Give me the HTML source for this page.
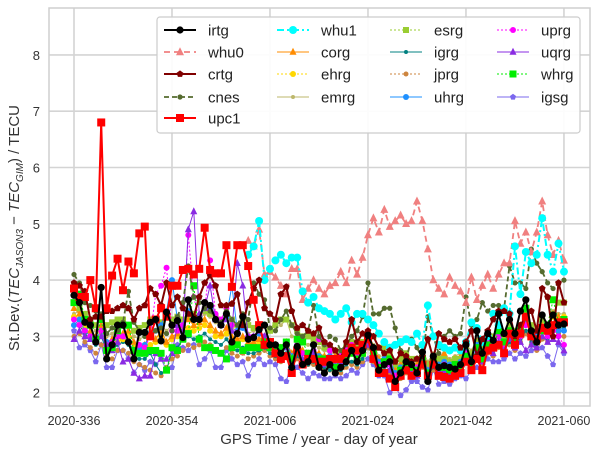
<!DOCTYPE html>
<html><head><meta charset="utf-8"><style>
body{margin:0;background:#fff;}
svg{display:block;font-family:"Liberation Sans",sans-serif;}
</style></head><body>
<svg id="chart" width="600" height="456" viewBox="0 0 600 456">
<rect x="0" y="0" width="600" height="456" fill="#fff"/>
<g id="grid"></g>
<rect x="49" y="8" width="541" height="398" fill="none" stroke="#cfcfcf" stroke-width="1.5"/>
<g id="series"></g>
<g id="axes"></g>
<text x="19" y="228" transform="rotate(-90 19 228)" text-anchor="middle" font-size="15" fill="#333">St.Dev.(<tspan font-style="italic">TEC</tspan><tspan font-size="10" dy="4" font-style="italic">JASON3</tspan><tspan dy="-4"> − </tspan><tspan font-style="italic">TEC</tspan><tspan font-size="10" dy="4" font-style="italic">GIM</tspan><tspan dy="-4">) / TECU</tspan></text>
<text x="319" y="444" text-anchor="middle" font-size="15" fill="#333">GPS Time / year - day of year</text>
<g id="legend"></g>
</svg>
<script>
const xTickDays=[0,18,36,54,72,90];
const xTickLabels=["2020-336","2020-354","2021-006","2021-024","2021-042","2021-060"];
const yTicks=[2,3,4,5,6,7,8];

const irtg=[3.73,3.6,3.25,3.2,2.9,3.87,2.6,2.85,3.2,3.2,2.9,2.6,3.07,3.07,3.25,3.3,2.92,3.43,3.2,3.28,2.98,3.65,3.3,3.3,3.6,3.55,3.3,3.2,3.4,2.9,3.05,3.35,2.95,2.98,3.12,3.2,2.85,2.85,2.7,2.85,2.45,2.82,2.5,2.55,2.85,2.45,2.35,2.5,2.35,2.45,2.55,2.75,2.55,2.75,3.02,2.8,2.4,2.5,2.55,2.2,2.35,2.55,2.5,2.35,2.72,2.2,2.65,2.45,2.48,2.45,2.42,2.5,2.85,2.55,3.1,2.7,3.05,2.93,3.4,3.05,3.3,3.05,3.45,3.65,3.1,2.9,3.38,3.2,3.38,3.2,3.22];
const upc1=[3.85,3.7,3.7,4.0,3.5,6.8,3.5,4.08,4.38,3.82,4.33,4.12,4.83,4.95,3.0,3.3,3.5,3.35,3.9,3.9,4.18,4.2,4.1,4.2,4.93,4.18,4.12,4.12,4.62,3.88,4.62,4.62,4.25,3.65,3.2,2.85,2.9,2.7,2.6,2.65,2.35,2.75,2.5,2.6,2.6,2.55,2.55,2.6,2.6,2.6,2.7,2.8,2.75,2.85,2.95,2.6,2.35,2.35,2.25,2.1,2.3,2.4,2.3,2.35,2.5,2.3,2.5,2.3,2.28,2.25,2.3,2.35,2.55,2.4,2.6,2.4,2.75,2.8,2.85,2.7,3.05,2.85,3.05,3.35,3.0,2.95,3.15,3.1,3.2,3.25,3.25];
const crtg=[3.95,3.9,3.8,3.3,3.35,3.35,3.45,3.45,3.5,3.55,3.5,3.3,3.5,3.55,3.85,3.75,3.55,3.95,3.55,3.7,3.5,3.4,3.35,3.7,3.95,4.08,3.9,3.55,3.55,3.58,3.75,3.2,3.6,3.85,4.0,3.5,3.4,3.3,3.75,3.88,3.45,3.15,3.2,3.1,3.05,3.15,2.9,2.85,2.75,2.6,2.9,3.3,2.9,3.05,3.1,3.0,2.8,2.7,2.75,2.55,2.7,2.65,2.55,2.6,2.65,2.95,2.6,3.05,2.95,2.9,2.95,2.8,2.9,3.1,2.65,2.95,3.1,3.3,3.45,3.45,3.4,3.0,3.2,3.35,3.45,3.1,3.85,3.7,3.0,3.95,3.6];
const cnes=[4.1,3.95,3.6,3.55,3.45,3.4,3.05,3.15,3.1,3.25,3.8,3.25,3.1,3.0,3.0,3.1,3.15,3.05,3.1,3.35,3.6,4.25,3.7,3.6,3.5,3.45,3.3,3.25,3.45,3.3,3.2,3.4,3.3,3.95,3.75,3.65,3.15,3.1,3.3,3.45,3.2,3.05,3.0,3.1,3.55,3.0,2.85,3.0,2.95,2.75,2.85,3.0,3.1,3.35,3.95,3.4,3.4,3.5,3.5,3.15,2.75,2.6,2.95,2.8,2.6,3.35,3.0,2.7,3.0,3.1,3.0,3.05,3.7,3.2,3.3,3.6,3.45,3.55,3.55,3.5,4.25,3.95,3.95,3.85,4.55,4.3,4.15,3.95,3.85,3.95,4.0];
const whu0Start=32;
const whu0=[4.7,4.6,4.9,4.1,4.15,4.05,3.9,3.75,4.2,4.2,3.65,3.85,4.0,3.85,3.75,3.9,3.95,4.15,3.95,4.35,4.1,4.4,4.8,5.1,4.85,5.25,4.95,5.05,5.15,5.0,5.05,5.4,5.05,4.55,4.0,3.85,3.75,4.05,3.9,3.8,3.6,4.05,3.65,3.9,4.1,3.85,4.1,4.3,4.3,5.05,4.65,4.85,4.5,4.85,5.4,4.8,4.45,4.7,4.35];
const whu1Start=32;
const whu1=[4.45,4.6,5.05,4.0,4.2,4.35,4.45,4.3,4.4,4.4,3.8,3.6,3.7,3.5,3.45,3.4,3.3,3.4,3.5,3.25,3.4,3.4,3.3,3.2,3.05,2.9,2.8,2.85,2.9,2.95,2.9,3.05,2.85,3.55,3.0,2.85,2.8,2.75,2.8,2.75,2.9,3.25,3.15,2.9,3.0,3.4,3.2,3.5,3.4,4.6,3.75,4.5,4.3,4.45,5.1,4.45,4.15,4.65,4.15];
const igsg=[3.1,2.8,2.85,2.75,2.55,2.85,2.45,2.45,2.75,2.75,2.6,2.35,2.5,2.4,2.55,2.5,2.6,2.4,2.45,2.85,2.8,2.75,2.85,2.5,2.6,2.75,2.45,2.45,2.75,2.6,2.5,2.55,2.3,2.5,2.6,2.5,2.55,2.5,2.25,2.2,2.55,2.45,2.35,2.25,2.35,2.3,2.25,2.25,2.3,2.25,2.3,2.4,2.35,2.5,2.6,2.5,2.3,2.3,2.0,2.1,1.95,2.05,2.2,2.2,2.1,2.05,2.4,2.15,2.2,2.15,2.25,2.3,2.25,2.4,2.45,2.5,2.6,2.55,2.55,2.6,2.7,2.6,2.7,2.65,2.75,2.8,2.8,2.65,2.5,2.85,2.7];
const uqrg=[2.95,3.1,3.0,2.95,2.9,3.0,2.85,2.75,2.9,2.55,2.6,2.35,2.25,2.3,2.3,2.7,2.6,2.6,2.7,3.2,3.1,4.9,5.22,3.4,3.5,3.9,3.3,3.2,3.3,3.1,4.3,3.9,3.0,3.0,3.1,3.0,2.9,2.8,2.7,2.8,2.5,2.75,2.6,2.6,2.7,2.55,2.5,2.6,2.5,2.55,2.6,2.7,2.6,2.7,2.85,2.7,2.4,2.5,2.4,2.2,2.3,2.4,2.35,2.3,2.5,2.3,2.5,2.4,2.4,2.35,2.4,2.4,2.6,2.45,2.7,2.55,2.8,2.7,2.9,2.75,2.95,2.8,2.9,2.75,2.85,2.8,3.0,2.9,2.95,2.9,2.75];
const uprg=[3.3,3.2,3.1,3.0,2.95,3.1,2.85,2.9,3.0,3.0,2.9,2.7,2.85,2.8,3.0,3.75,3.9,4.22,3.1,3.1,3.2,4.8,3.7,3.3,3.5,4.35,3.4,3.3,3.5,3.2,3.05,3.2,3.0,3.0,3.1,3.0,2.9,2.85,2.8,2.85,2.6,2.85,2.7,2.65,2.75,2.95,2.9,2.75,2.6,2.65,2.8,2.85,2.7,2.8,3.0,2.75,2.5,2.55,2.5,2.3,2.4,2.5,2.4,2.45,2.6,2.35,2.55,2.45,2.5,2.4,2.45,2.5,2.7,2.55,2.8,2.6,2.9,2.8,3.0,2.8,3.0,2.85,3.0,3.2,3.0,2.9,3.1,3.0,3.1,3.0,2.85];
const uhrg=[3.2,3.3,3.1,3.0,2.95,3.1,2.9,2.85,3.0,3.0,2.9,2.75,2.8,2.85,3.05,3.1,3.2,3.45,4.0,3.3,3.2,3.45,3.3,3.35,3.5,3.5,3.3,3.25,3.35,3.9,3.1,3.15,3.0,3.0,3.05,3.0,2.9,2.85,2.8,2.9,2.65,2.85,2.7,2.7,2.75,2.65,2.6,2.65,2.6,2.65,2.7,2.8,2.7,2.8,3.0,2.8,2.55,2.6,2.6,2.35,2.45,2.55,2.5,2.45,2.65,2.4,2.6,2.5,2.55,2.5,2.5,2.55,2.75,2.6,2.85,2.65,2.95,2.85,3.05,2.9,3.05,2.95,3.1,3.3,3.1,3.0,3.15,3.1,3.2,3.1,3.1];
const whrg=[3.6,3.75,3.3,3.2,2.95,3.3,2.75,2.8,3.1,3.2,3.2,2.75,2.7,2.7,2.75,2.75,2.7,2.4,2.8,2.75,2.95,3.05,3.9,2.95,2.8,2.8,2.75,2.7,2.6,2.8,2.85,2.75,2.8,2.8,2.8,2.9,2.8,2.75,2.8,2.9,2.6,2.95,2.9,2.7,2.6,2.6,2.6,2.5,2.45,2.6,2.65,2.7,2.6,2.7,2.95,2.7,2.45,2.55,2.6,2.2,2.4,2.5,2.45,2.4,2.6,2.35,2.55,2.45,2.45,2.4,2.5,2.45,2.65,2.5,2.8,2.6,2.85,2.8,3.1,2.9,3.1,2.9,3.1,3.5,3.0,2.95,3.1,3.2,3.65,3.25,3.3];
const esrg=[3.6,3.5,3.4,3.3,3.2,3.35,3.2,3.25,3.3,3.3,3.2,3.1,3.15,3.2,3.3,3.3,3.25,3.35,3.3,3.35,3.3,3.4,3.4,3.35,3.45,3.4,3.35,3.3,3.4,3.3,3.2,3.3,3.2,3.15,3.2,3.2,3.1,3.2,3.3,3.3,3.2,3.1,3.0,3.0,2.95,2.9,2.8,2.8,2.75,2.7,2.8,2.9,2.8,2.9,3.0,3.0,2.8,2.8,2.7,2.5,2.6,2.7,2.6,2.6,2.7,2.5,2.65,2.6,2.6,2.55,2.6,2.6,2.8,2.7,2.9,2.8,3.0,3.0,3.1,3.0,3.2,3.1,3.2,3.4,3.2,3.1,3.3,3.2,3.4,3.6,3.6];
const corg=[3.5,3.4,3.3,3.1,3.0,3.2,2.9,2.95,3.0,3.05,3.1,2.9,2.8,2.85,3.0,2.95,3.1,2.9,3.0,3.05,3.2,3.3,3.2,3.25,3.3,3.2,3.1,3.05,3.15,3.0,2.95,3.0,2.9,2.9,2.95,3.0,2.9,2.85,2.8,2.9,2.7,2.85,2.75,2.7,2.75,2.7,2.65,2.6,2.65,2.6,2.7,2.75,2.7,2.8,3.1,2.8,2.6,2.6,2.55,2.4,2.5,2.6,2.55,2.5,2.7,2.5,2.65,2.6,2.7,2.55,2.6,2.65,2.8,2.7,2.9,2.75,2.95,2.9,3.05,2.95,3.1,3.0,3.15,3.3,3.1,3.0,3.2,3.15,3.4,3.35,3.3];
const ehrg=[3.35,3.3,3.15,3.0,2.9,3.05,2.85,2.8,2.9,2.95,3.0,2.8,2.7,2.75,2.85,2.9,3.0,2.85,2.95,3.0,3.1,3.15,3.1,3.15,3.2,3.1,3.0,3.0,3.05,2.95,2.9,2.95,2.85,2.85,2.9,2.9,2.85,2.8,2.75,2.85,2.65,2.8,2.7,2.65,2.7,2.65,2.6,2.55,2.6,2.55,2.65,2.7,2.65,2.75,3.05,2.75,2.55,2.55,2.5,2.35,2.45,2.55,2.5,2.45,2.65,2.45,2.6,2.55,2.65,2.5,2.55,2.6,2.75,2.65,2.85,2.7,2.9,2.85,3.0,2.9,3.05,2.95,3.1,3.25,3.05,2.95,3.15,3.1,3.35,3.3,3.35];
const emrg=[3.4,3.45,3.3,3.2,3.1,3.25,3.0,3.05,3.15,3.2,3.15,3.0,2.95,3.0,3.15,3.1,3.2,3.1,3.2,3.2,3.3,3.35,3.3,3.3,3.4,3.35,3.25,3.2,3.3,3.15,3.1,3.15,3.05,3.1,3.15,3.2,3.1,3.3,3.2,3.3,3.0,3.0,2.9,2.85,2.85,2.8,2.75,2.7,2.7,2.65,2.75,2.8,2.75,2.85,3.05,2.85,2.65,2.65,2.6,2.45,2.55,2.65,2.6,2.55,2.75,2.55,2.7,2.65,2.7,2.6,2.65,2.7,2.85,2.75,2.95,2.8,3.0,2.95,3.1,3.0,3.15,3.05,3.2,3.35,3.15,3.05,3.25,3.2,3.45,3.4,3.4];
const igrg=[3.2,3.2,3.05,2.95,2.85,3.0,2.75,2.75,2.85,2.9,2.85,2.65,2.6,2.6,2.7,2.5,2.35,2.4,2.75,2.8,2.95,3.0,2.95,3.0,3.05,2.95,2.9,2.85,2.95,2.8,2.75,2.8,2.7,2.7,2.75,2.8,2.7,2.65,2.6,2.7,2.45,2.65,2.55,2.5,2.55,2.5,2.45,2.4,2.45,2.4,2.5,2.55,2.5,2.6,2.85,2.6,2.4,2.4,2.4,2.2,2.3,2.4,2.35,2.3,2.5,2.3,2.45,2.4,2.45,2.35,2.4,2.45,2.6,2.5,2.7,2.55,2.75,2.7,2.85,2.75,2.9,2.8,2.95,3.1,2.9,2.8,3.0,2.95,3.2,3.15,3.15];
const jprg=[3.0,3.05,2.9,2.8,2.7,2.85,2.65,2.6,2.75,2.75,2.7,2.55,2.5,2.45,2.4,2.35,2.3,2.45,2.6,2.65,2.75,2.85,2.8,2.85,2.9,2.85,2.75,2.7,2.8,2.7,2.65,2.7,2.6,2.65,2.7,2.75,2.65,2.6,2.55,2.65,2.45,2.6,2.5,2.5,2.5,2.45,2.4,2.4,2.4,2.35,2.45,2.5,2.45,2.55,2.8,2.55,2.35,2.4,2.35,2.15,2.25,2.35,2.3,2.3,2.45,2.25,2.4,2.35,2.4,2.3,2.35,2.4,2.55,2.45,2.65,2.5,2.7,2.65,2.8,2.7,2.85,2.75,2.9,3.05,2.85,2.75,2.95,2.9,3.1,3.05,3.0];

const X0=74, PX_PER_DAY=5.444, Y2=392.7, PX_PER_UNIT=56.3;
function xs(d){return X0+d*PX_PER_DAY;}
function ys(v){return Y2-(v-2)*PX_PER_UNIT;}
const NS="http://www.w3.org/2000/svg";
function mk(tag,attrs,parent){const e=document.createElementNS(NS,tag);for(const k in attrs)e.setAttribute(k,attrs[k]);parent.appendChild(e);return e;}

const grid=document.getElementById('grid'), axes=document.getElementById('axes');
xTickDays.forEach((d,i)=>{
  const gl=mk('line',{x1:xs(d),x2:xs(d),y1:8,y2:406,stroke:'#d4d4d4','stroke-width':1.6},grid);
  
  
  const t=mk('text',{x:xs(d),y:425,'text-anchor':'middle','font-size':12.5,fill:'#333'},axes);
  t.textContent=xTickLabels[i];
  
  
});
yTicks.forEach(v=>{
  const gl=mk('line',{x1:49,x2:590,y1:ys(v),y2:ys(v),stroke:'#d4d4d4','stroke-width':1.6},grid);
  
  
  const t=mk('text',{x:40,y:ys(v)+5,'text-anchor':'end','font-size':13,fill:'#333'},axes);
  t.textContent=String(v);
  
  
});

function marker(g,shape,x,y,s,color){
  if(shape==='o') return mk('circle',{cx:x,cy:y,r:s,fill:color},g);
  if(shape==='s') return mk('rect',{x:x-s,y:y-s,width:2*s,height:2*s,fill:color},g);
  if(shape==='^') return mk('polygon',{points:`${x},${y-s*1.2} ${x-s},${y+s*0.8} ${x+s},${y+s*0.8}`,fill:color},g);
  if(shape==='p'){let p=[];for(let k=0;k<5;k++){const a=-Math.PI/2+k*2*Math.PI/5;p.push((x+s*Math.cos(a)).toFixed(1)+','+(y+s*Math.sin(a)).toFixed(1));}return mk('polygon',{points:p.join(' '),fill:color},g);}
  return mk('circle',{cx:x,cy:y,r:s,fill:color},g);
}

const specs=[
 {name:'igsg',data:igsg,start:0,color:'#7b68ee',dash:'',w:1,m:'p',s:3.2},
 {name:'jprg',data:jprg,start:0,color:'#cd853f',dash:'2,2',w:1,m:'o',s:2.5},
 {name:'igrg',data:igrg,start:0,color:'#008080',dash:'',w:1,m:'o',s:2},
 {name:'emrg',data:emrg,start:0,color:'#bdb76b',dash:'',w:1,m:'o',s:2},
 {name:'ehrg',data:ehrg,start:0,color:'#ffd700',dash:'2,2',w:1,m:'o',s:3},
 {name:'corg',data:corg,start:0,color:'#ff8c00',dash:'',w:1,m:'^',s:3.5},
 {name:'esrg',data:esrg,start:0,color:'#9acd32',dash:'2,2',w:1,m:'s',s:3},
 {name:'uhrg',data:uhrg,start:0,color:'#1e90ff',dash:'',w:1,m:'o',s:3},
 {name:'uprg',data:uprg,start:0,color:'#ff00ff',dash:'2,2',w:1,m:'o',s:3},
 {name:'uqrg',data:uqrg,start:0,color:'#8a2be2',dash:'',w:1,m:'^',s:3.5},
 {name:'whrg',data:whrg,start:0,color:'#00ee00',dash:'2,2',w:1,m:'s',s:3.5},
 {name:'cnes',data:cnes,start:0,color:'#556b2f',dash:'5,3',w:1.8,m:'o',s:2.6},
 {name:'whu0',data:whu0,start:whu0Start,color:'#f08080',dash:'6,4',w:1.8,m:'^',s:4},
 {name:'whu1',data:whu1,start:whu1Start,color:'#00ffff',dash:'7,3,2,3',w:2,m:'o',s:4},
 {name:'crtg',data:crtg,start:0,color:'#800000',dash:'',w:2,m:'p',s:3.6},
 {name:'upc1',data:upc1,start:0,color:'#ff0000',dash:'',w:2,m:'s',s:4},
 {name:'irtg',data:irtg,start:0,color:'#000000',dash:'',w:2,m:'o',s:3.6}
];
const sg=document.getElementById('series');
specs.forEach(sp=>{
  const g=mk('g',{},sg);
  
  
  const pts=sp.data.map((v,i)=>xs(sp.start+i).toFixed(1)+','+ys(v).toFixed(1)).join(' ');
  const pl=mk('polyline',{points:pts,fill:'none',stroke:sp.color,'stroke-width':sp.w,'stroke-dasharray':sp.dash,'stroke-linejoin':'round'},g);
  
  
  sp.data.forEach((v,i)=>{
    const mm=marker(g,sp.m,xs(sp.start+i),ys(v),sp.s,sp.color);
    
    
  });
});

// legend
const lg=document.getElementById('legend');
const box=mk('rect',{x:157,y:17,width:423,height:116,rx:3,fill:'#fff','fill-opacity':0.92,stroke:'#cccccc','stroke-width':1.2},lg);


const legendOrder=['irtg','whu0','crtg','cnes','upc1','whu1','corg','ehrg','emrg','esrg','igrg','jprg','uhrg','uprg','uqrg','whrg','igsg'];
const colX=[164,277,390,497];
const rowY=[30,52,74,97,118];
legendOrder.forEach((n,i)=>{
  const sp=specs.find(s=>s.name===n);
  const c=i<5?0:Math.floor((i-5)/4)+1;
  const r=i<5?i:(i-5)%4;
  const x=colX[c], y=rowY[r];
  const g=mk('g',{},lg);
  
  
  mk('line',{x1:x,x2:x+32,y1:y,y2:y,stroke:sp.color,'stroke-width':sp.w,'stroke-dasharray':sp.dash},g);
  marker(g,sp.m,x+16,y,sp.s,sp.color);
  const t=mk('text',{x:x+44,y:y+5.5,'font-size':15,fill:'#222'},g);
  t.textContent=n;
});
</script>
</body></html>
